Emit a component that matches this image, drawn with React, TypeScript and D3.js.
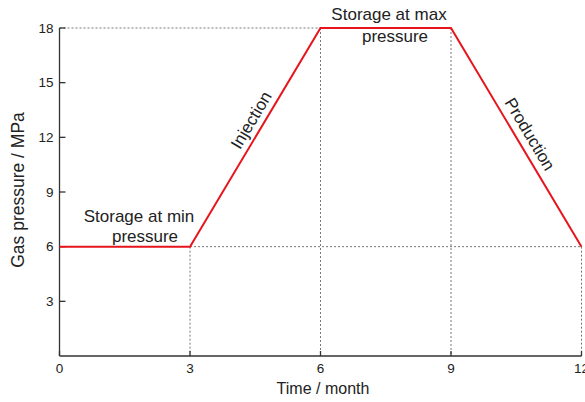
import React from "react";
import * as d3 from "d3";

const months = [0, 3, 6, 9, 12];
const pressure = [6, 6, 18, 18, 6];
const xTicks = [0, 3, 6, 9, 12];
const yTicks = [3, 6, 9, 12, 15, 18];

const W = 585;
const H = 402;
const FONT = "'Liberation Sans', Arial, sans-serif";

export default function App() {
  const x = d3.scaleLinear().domain([0, 12]).range([59.5, 581.5]);
  const y = d3.scaleLinear().domain([0, 18]).range([356, 28]);
  const line = d3
    .line<number>()
    .x((_, i) => x(months[i]))
    .y((d) => y(d));

  const grid = "#555";
  const dash = "2,2";
  const angle = (Math.atan2(y(6) - y(18), x(6) - x(3)) * 180) / Math.PI;

  return (
    <svg width={W} height={H} style={{ position: "absolute", left: 0, top: 0 }} fontFamily={FONT}>
      <rect width={W} height={H} fill="#fff" />
      {/* dotted reference lines */}
      <g stroke={grid} strokeWidth={0.8} strokeDasharray={dash} fill="none">
        <line x1={x(0)} x2={x(6)} y1={y(18)} y2={y(18)} />
        <line x1={x(3)} x2={x(12)} y1={y(6)} y2={y(6)} />
        <line x1={x(3)} x2={x(3)} y1={y(6)} y2={y(0)} />
        <line x1={x(6)} x2={x(6)} y1={y(18)} y2={y(0)} />
        <line x1={x(9)} x2={x(9)} y1={y(18)} y2={y(0)} />
        <line x1={x(12)} x2={x(12)} y1={y(6)} y2={y(0)} />
      </g>
      {/* axes */}
      <g stroke="#333" strokeWidth={1.3}>
        <line x1={x(0)} x2={x(0)} y1={y(0)} y2={y(18)} />
        <line x1={x(0)} x2={x(12)} y1={y(0)} y2={y(0)} />
        {yTicks.map((t) => (
          <line key={"yt" + t} x1={x(0)} x2={x(0) + 6} y1={y(t)} y2={y(t)} />
        ))}
        {xTicks.map((t) => (
          <line key={"xt" + t} x1={x(t)} x2={x(t)} y1={y(0)} y2={y(0) - 5} />
        ))}
      </g>
      <g fontSize={13.5} fill="#222">
        {yTicks.map((t) => (
          <text key={"yl" + t} x={x(0) - 6} y={y(t)} dy="0.35em" textAnchor="end">
            {t}
          </text>
        ))}
        {xTicks.map((t) => (
          <text key={"xl" + t} x={x(t)} y={y(0) + 17} textAnchor="middle">
            {t}
          </text>
        ))}
      </g>
      <text x={323} y={394} fontSize={16} textAnchor="middle" fill="#222">
        Time / month
      </text>
      <text
        transform={`translate(24,190) rotate(-90)`}
        fontSize={17.5}
        textAnchor="middle"
        fill="#222"
      >
        Gas pressure / MPa
      </text>
      {/* data line */}
      <path d={line(pressure) || ""} fill="none" stroke="#e8141c" strokeWidth={2} />
      {/* annotations */}
      <g fontSize={17} fill="#222" textAnchor="middle">
        <text x={139} y={222}>Storage at min</text>
        <text x={145} y={242}>pressure</text>
        <text x={389} y={20}>Storage at max</text>
        <text x={395} y={42}>pressure</text>
        <text transform={`translate(251,120) rotate(${-angle})`} dy="0.35em">
          Injection
        </text>
        <text transform={`translate(530,134) rotate(${angle})`} dy="0.35em">
          Production
        </text>
      </g>
    </svg>
  );
}
